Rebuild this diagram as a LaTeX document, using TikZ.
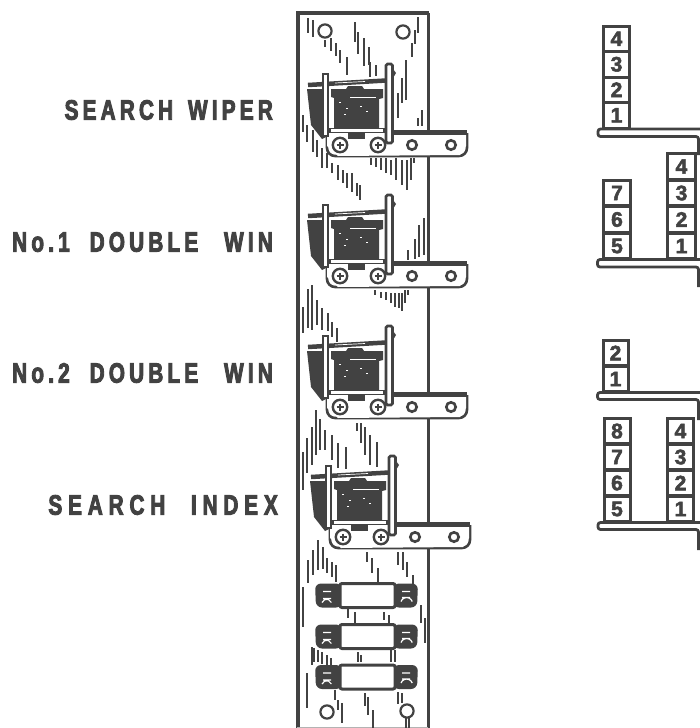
\documentclass[tikz,border=0pt]{standalone}
\usepackage{fontspec}
\newfontfamily\labelfont[FakeStretch=.74,LetterSpace=15,UprightFont={* Bold},FakeBold=3.2]{Liberation Sans}
\newfontfamily\numfont[UprightFont={* Bold},FakeBold=2.5]{Liberation Sans}
\definecolor{inkgrey}{HTML}{424242}
\tikzset{
  hatch/.style={draw=inkgrey,line width=1.2pt},
  wall/.style={draw=inkgrey,line width=3.4pt},
  numbox/.style={draw=inkgrey,line width=3pt,fill=white,minimum height=25.5pt,inner sep=0pt,
    text=inkgrey,font=\numfont\fontsize{21}{21}\selectfont},
  shelf/.style={draw=inkgrey,line width=2.8pt,rounded corners=2.5pt},
  panellabel/.style={anchor=east,inner sep=0pt,text=inkgrey,font=\labelfont\fontsize{28}{28}\selectfont},
  pics/relay/.style={code={
    % bracket
    \draw[draw=inkgrey,line width=2.6pt,fill=white,rounded corners=8pt] (327,133)--(327,156)--(467,156)--(467,133);
    \fill[white] (327,133)--(327,146)--(338,156)--(460,155)--(466,146)--(466,133)--cycle;
    \draw[draw=inkgrey,line width=5pt] (392,132.5)--(467,132.5);
    \fill[inkgrey] (348,132) rectangle (365,139);
    % armature and arm
    \fill[inkgrey] (307,89)--(322,89)--(328,136)--(322,139)--(311,125)--cycle;
    \draw[draw=inkgrey,line width=4.5pt] (308,85)--(386,80.5);
    \draw[white,line width=.7pt] (335,83)--(365,81.5);
    % coil
    \fill[inkgrey] (331,89)--(346,89)--(348,86)--(362,86)--(364,89)--(383,89)--(383,98)--(379,99)--(379,130)--(334,130)--(334,98)--(331,97)--cycle;
    \draw[white,line width=1pt] (350,97.5)--(376,97.5);
    \foreach \cx/\cy in {339/102,346/108,360/106,366/111,344/114}
      \fill[white] (\cx,\cy) rectangle ++(2,1);
    \draw[draw=inkgrey,line width=1.6pt,fill=white] (330,128.5) rectangle (384,132.5);
    % posts
    \draw[draw=inkgrey,line width=2pt,fill=white] (323,74) rectangle (328,136);
    \draw[draw=inkgrey,line width=2.6pt,fill=white,rounded corners=1.5pt] (386,64) rectangle (392.5,143);
    \fill[inkgrey] (393,69)--(396,73)--(393,78)--cycle;
    % screws and holes
    \foreach \sx in {340,378} {
      \draw[draw=inkgrey,line width=2.4pt,fill=white] (\sx,145) circle (7.2);
      \draw[draw=inkgrey,line width=1.8pt] (\sx-3.5,145)--(\sx+3.5,145) (\sx,141.5)--(\sx,148.5);
    }
    \foreach \sx in {412,451}
      \draw[draw=inkgrey,line width=2.6pt,fill=white] (\sx,145) circle (4.7);
  }},
  pics/fusebox/.style={code={
    \fill[inkgrey,rounded corners=6pt] (315,-12)--(342,-12)--(342,12)--(316,12)--cycle;
    \fill[inkgrey,rounded corners=6pt] (393,-12)--(418,-12)--(417,12)--(393,12)--cycle;
    \draw[white,line width=1.2pt] (323,-4)--(331,-4) (323,3)--(331,3) (322,7) arc[start angle=200,end angle=340,radius=5];
    \draw[white,line width=1.2pt] (402,-4)--(410,-4) (402,2)--(410,2) (401,6) arc[start angle=200,end angle=340,radius=6];
    \draw[draw=inkgrey,line width=3pt,fill=white,rounded corners=2pt] (340,-12)rectangle(395,12);
  }}
}
\begin{document}
\begin{tikzpicture}[x=1pt,y=-1pt]
\useasboundingbox (0,0) rectangle (700,728);

% panel
\draw[draw=inkgrey,line width=4pt] (297.5,728)--(297.5,13);
\draw[wall] (296,13)--(428.5,13);
\draw[wall] (428.5,13)--(428.5,728);
\draw[draw=inkgrey!40,line width=.6pt] (297,727.5)--(428,727.5);
\foreach \hx/\hy in {325/31,403/32,327/712,407/711}
  \draw[draw=inkgrey,line width=2.2pt] (\hx,\hy) circle (6.6);

% hatching
\foreach \hx/\hy/\hl in {308/18/15,313/20/17,325/40/7,331/38/13,336/43/13,340/50/13,347/57/18,
  355/22/20,358/32/22,364/38/28,369/47/18,370/62/15,376/65/11,
  398/93/25,402/78/25,406/60/40,412/43/14,415/30/14,418/17/16,422/110/16,418/118/8,
  303/115/17,307/125/17,313/130/22,317/140/17,322/148/20,327/153/15,332/163/10,338/165/15,343/170/13,347/173/15,352/173/19,357/183/13,360/185/15,
  371/158/7,376/158/9,381/158/12,386/158/15,391/160/15,396/158/22,402/160/25,407/160/30,411/158/22,414/158/5,
  408/250/10,415/239/20,419/225/32,424/218/37,
  375/290/5,381/292/6,386/292/8,391/293/10,395/293/14,399/293/15,402/293/18,405/290/13,408/290/5,
  303/307/26,308/289/39,312/285/45,317/300/25,322/308/22,328/313/18,332/322/15,337/328/14,
  303/452/38,307/438/35,312/427/38,316/410/45,320/419/31,325/430/20,332/435/25,338/443/25,346/447/22,
  357/423/8,361/423/20,365/427/28,370/435/30,377/442/25,
  367/552/10,372/558/15,378/568/14,398/552/13,403/552/18,407/562/15,413/575/10,
  303/587/40,308/560/23,313/550/25,318/540/30,323/547/22,327/558/15,332/562/15,336/565/17,
  348/609/9,355/612/12,384/612/8,389/615/8,421/605/18,425/618/25,
  358/652/10,361/655/7,391/650/12,395/650/12,
  312/647/18,314/648/14,318/650/12,322/652/12,327/655/10,331/658/7,307/673/35,
  335/690/10,338/700/10,342/703/20,365/693/13,368/697/18,373/710/18,398/692/12,402/693/10,406/718/10,409/718/10}
  \draw[hatch] (\hx,\hy)--++(0,\hl);

% relays
\pic at (0,0) {relay};
\pic at (0,131) {relay};
\pic at (0,262) {relay};
\pic at (3,392) {relay};

% resistors
\pic at (0,595.5) {fusebox};
\pic at (0,636.5) {fusebox};
\pic at (0,677) {fusebox};

% labels
\node[panellabel] (wiper) at (273,110) {SEARCH\hspace{5pt} WIPER};
\node[panellabel] (win1) at (273,242) {No.1\hspace{10pt} DOUBLE\hspace{16pt} WIN};
\node[panellabel] (win2) at (273,373) {No.2\hspace{10pt} DOUBLE\hspace{16pt} WIN};
\node[panellabel] (index) at (278,505) {\addfontfeature{LetterSpace=21}SEARCH\hspace{14pt} INDEX};

% number stacks
\foreach \n in {1,2,3,4}
  \node[numbox,minimum width=26pt] (A\n) at (616.5,{128-12.75-(\n-1)*25.5}) {\n};
\foreach \n in {1,2,3,4}
  \node[numbox,minimum width=28pt] (B\n) at (681.5,{259-13-(\n-1)*26.5}) {\n};
\foreach \n in {5,6,7}
  \node[numbox,minimum width=27pt] (B\n) at (617,{259-13-(\n-5)*26.5}) {\n};
\foreach \n in {1,2}
  \node[numbox,minimum width=25pt] (C\n) at (615.5,{392-13-(\n-1)*26}) {\n};
\foreach \n in {1,2,3,4}
  \node[numbox,minimum width=26pt] (D\n) at (680.5,{522-13-(\n-1)*26}) {\n};
\foreach \n in {5,6,7,8}
  \node[numbox,minimum width=26pt] (D\n) at (617,{522-13-(\n-5)*26}) {\n};

% shelves
\draw[shelf] (702,129)--(598,129)--(598,136.5)--(698.5,136.5)--(698.5,155);
\draw[shelf] (702,259.5)--(597.5,259.5)--(597.5,267)--(698.5,267)--(698.5,287);
\draw[shelf] (702,392.5)--(597.5,392.5)--(597.5,399.5)--(698.5,399.5)--(698.5,420);
\draw[shelf] (702,522.5)--(598,522.5)--(598,529.5)--(698.5,529.5)--(698.5,550);
\end{tikzpicture}
\end{document}
